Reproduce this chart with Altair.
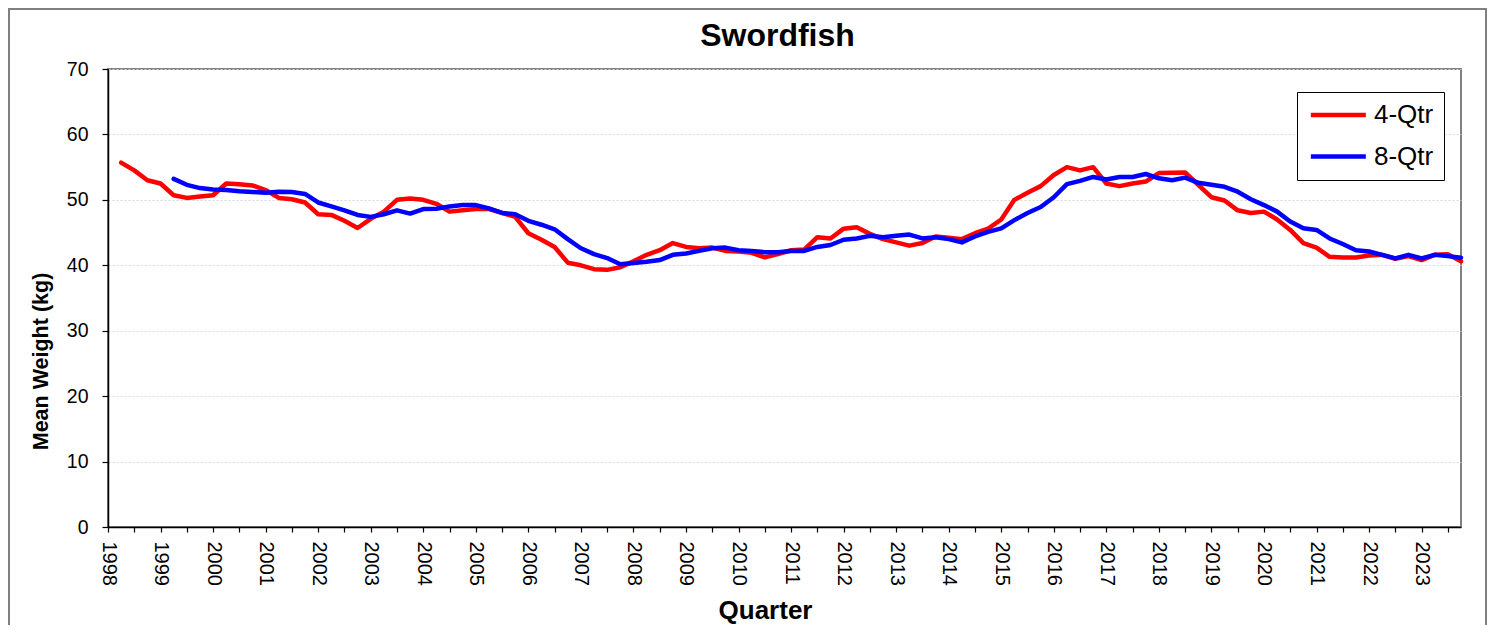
import altair as alt
import pandas as pd

years = list(range(1998, 2024))
quarters = [f"{y} Q{q}" for y in years for q in range(1, 5)]

series_names = ["4-Qtr", "8-Qtr"]
series_colors = ["#FF0000", "#0000FF"]

# 4-Qtr values start at 1998 Q2
qtr4_values = [
    55.7, 54.5, 53.0, 52.5, 50.7, 50.3, 50.5, 50.7, 52.5, 52.4,
    52.2, 51.5, 50.3, 50.1, 49.6, 47.8, 47.7, 46.8, 45.7, 47.1,
    48.2, 50.0, 50.2, 50.0, 49.4, 48.2, 48.4, 48.6, 48.6, 48.0,
    47.4, 44.9, 43.9, 42.8, 40.4, 40.0, 39.4, 39.3, 39.7, 40.6,
    41.6, 42.3, 43.4, 42.8, 42.6, 42.7, 42.2, 42.1, 41.9, 41.2,
    41.7, 42.3, 42.4, 44.3, 44.1, 45.6, 45.8, 44.8, 44.0, 43.5,
    43.0, 43.4, 44.4, 44.2, 44.0, 44.9, 45.6, 47.0, 50.0, 51.1,
    52.1, 53.8, 55.0, 54.5, 55.0, 52.5, 52.1, 52.5, 52.8, 54.1,
    54.15, 54.2, 52.3, 50.4, 49.9, 48.4, 48.0, 48.2, 47.0, 45.4,
    43.4, 42.7, 41.3, 41.2, 41.2, 41.5, 41.6, 41.0, 41.4, 40.8,
    41.6, 41.7, 40.6,
]
qtr4_start = "1998 Q2"

# 8-Qtr values start at 1999 Q2
qtr8_values = [
    53.2, 52.3, 51.8, 51.6, 51.5, 51.3, 51.2, 51.1, 51.25, 51.2,
    50.9, 49.6, 49.0, 48.4, 47.7, 47.4, 47.8, 48.4, 47.9, 48.6,
    48.65, 49.0, 49.2, 49.2, 48.7, 48.0, 47.8, 46.8, 46.2, 45.5,
    44.0, 42.6, 41.7, 41.1, 40.15, 40.35, 40.55, 40.8, 41.6, 41.8,
    42.2, 42.6, 42.7, 42.3, 42.2, 42.0, 42.0, 42.2, 42.2, 42.8,
    43.1, 43.9, 44.1, 44.5, 44.3, 44.5, 44.7, 44.1, 44.3, 44.0,
    43.5, 44.4, 45.1, 45.65, 46.9, 48.0, 48.9, 50.4, 52.4, 52.9,
    53.5, 53.1, 53.5, 53.5, 53.95, 53.3, 53.0, 53.4, 52.6, 52.3,
    52.0, 51.25, 50.1, 49.2, 48.2, 46.7, 45.65, 45.4, 44.1, 43.25,
    42.3, 42.1, 41.6, 41.05, 41.6, 41.05, 41.6, 41.4, 41.15,
]
qtr8_start = "1999 Q2"

y_ticks = [0, 10, 20, 30, 40, 50, 60, 70]

rows = []
for name, start, vals in [("4-Qtr", qtr4_start, qtr4_values), ("8-Qtr", qtr8_start, qtr8_values)]:
    s = quarters.index(start)
    for k, v in enumerate(vals):
        rows.append({"Quarter": quarters[s + k], "Series": name, "Weight": v, "ord": s + k})
df = pd.DataFrame(rows)

FONT = "Liberation Sans"

lines = alt.Chart(df).mark_line(strokeWidth=4.5, strokeJoin="round", strokeCap="round").encode(
    x=alt.X(
        "Quarter:O",
        scale=alt.Scale(type="point", domain=quarters, padding=0),
        sort=quarters,
        axis=alt.Axis(
            title="Quarter",
            values=quarters[::2],
            labelExpr="slice(datum.value, 5) == 'Q1' ? slice(datum.value, 0, 4) : ''",
            labelAngle=90,
            labelAlign="left",
            labelBaseline="middle",
            labelFontSize=20,
            labelColor="black",
            labelPadding=9,
            tickSize=5,
            tickColor="black",
            tickWidth=1.2,
            domainColor="black",
            domainWidth=1.5,
            grid=False,
            titleFontSize=26,
            titleFontWeight="bold",
            titleColor="black",
            titleX=657,
            titleY=91,
            titleAlign="center",
            titleBaseline="alphabetic",
            labelOverlap=False,
        ),
    ),
    y=alt.Y(
        "Weight:Q",
        scale=alt.Scale(domain=[0, 70], nice=False),
        axis=alt.Axis(
            title="Mean Weight (kg)",
            values=y_ticks,
            labelFontSize=19.5,
            labelColor="black",
            labelPadding=14,
            tickSize=6,
            tickColor="black",
            tickWidth=1.2,
            domainColor="black",
            domainWidth=1.5,
            grid=True,
            gridColor="#d9d9d9",
            gridDash=[2, 2],
            gridWidth=1,
            titleFontSize=21.5,
            titleFontWeight="bold",
            titleColor="black",
            titleX=-61,
            titleY=292,
            titleAngle=270,
            titleAlign="center",
            titleBaseline="alphabetic",
        ),
    ),
    color=alt.Color(
        "Series:N",
        scale=alt.Scale(domain=series_names, range=series_colors),
        legend=alt.Legend(
            title=None,
            orient="none",
            legendX=1189,
            legendY=23,
            symbolType="M-1,0H5",
            symbolStrokeWidth=4.5,
            symbolSize=336,
            labelFontSize=26,
            labelColor="black",
            labelOffset=41,
            strokeColor="black",
            fillColor="white",
            padding=10,
            rowPadding=15.5,
        ),
    ),
    order=alt.Order("ord:Q"),
)

frame = alt.Chart(pd.DataFrame({"a": [0]})).mark_rect(
    fill=None, stroke="#808080", strokeWidth=2
).encode(
    x=alt.value(-99), x2=alt.value(1378), y=alt.value(-60), y2=alt.value(620)
)

chart = alt.layer(frame, lines).properties(
    width=1353,
    height=458,
    padding={"left": 100, "top": 61, "right": 27, "bottom": 98},
    autosize=alt.AutoSizeParams(type="none"),
    title=alt.Title(
        "Swordfish", fontSize=32, fontWeight="bold", color="black",
        frame="group", anchor="middle", baseline="alphabetic", offset=0, dy=70.2, dx=-7, font=FONT,
    ),
).configure(
    font=FONT,
).configure_view(
    stroke="#808080", strokeWidth=2
).configure_axis(
    labelFont=FONT, titleFont=FONT
).configure_legend(
    labelFont=FONT
)

chart.save("out.html", embed_options={"renderer": "svg", "actions": False})
